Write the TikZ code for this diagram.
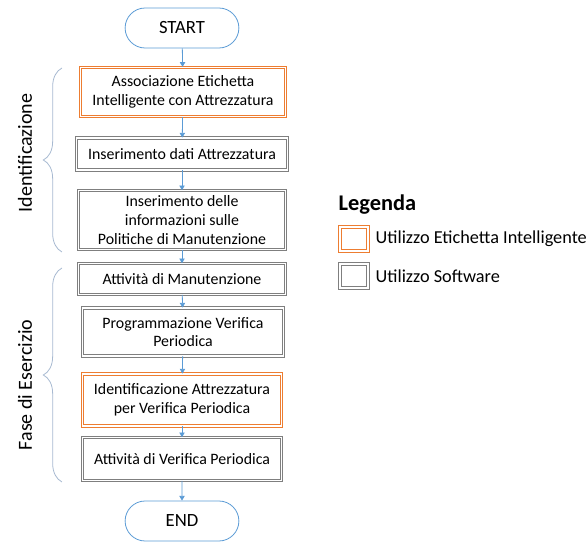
\documentclass[tikz,border=0pt]{standalone}
\usepackage{fontspec}
\setmainfont{Carlito}
\usetikzlibrary{arrows.meta,shapes.misc,decorations.pathreplacing}
\definecolor{flowblue}{HTML}{5B9BD5}
\definecolor{swgray}{HTML}{7F7F7F}
\definecolor{tagorange}{HTML}{ED7D31}
\definecolor{bracegray}{HTML}{A7B9D1}

\begin{document}
\begin{tikzpicture}[x=0.75pt,y=-0.75pt,
    terminal/.style={rounded rectangle, draw=flowblue, line width=0.6pt,
      minimum width=92pt, minimum height=30pt, font=\fontsize{14}{16}\selectfont},
    swbox/.style={rectangle, draw=swgray, double=white, double distance=1.1pt,
      line width=0.7pt, align=center, inner sep=3pt,
      font=\fontsize{11.9}{14}\selectfont},
    tagbox/.style={swbox, draw=tagorange},
    phase/.style={rotate=90, font=\fontsize{15}{17}\selectfont},
    curly/.style={draw=bracegray, line width=0.6pt, decorate,
      decoration={brace, amplitude=14pt}}]

  \useasboundingbox (0,0) rectangle (587,542);

  % flow
  \node[terminal] (1) at (182,28) {START};
  \node[tagbox, minimum width=154pt, minimum height=37pt] (2) at (183,92)
    {Associazione Etichetta\\Intelligente con Attrezzatura};
  \node[swbox, minimum width=158pt, minimum height=24pt] (3) at (182,154)
    {Inserimento dati Attrezzatura};
  \node[swbox, minimum width=155pt, minimum height=44pt] (4) at (182,220)
    {Inserimento delle\\informazioni sulle\\Politiche di Manutenzione};
  \node[swbox, minimum width=155pt, minimum height=23pt] (5) at (182,279)
    {Attività di Manutenzione};
  \node[swbox, minimum width=151pt, minimum height=36pt] (6) at (183,332)
    {Programmazione Verifica\\Periodica};
  \node[tagbox, minimum width=149pt, minimum height=39pt] (7) at (182,400)
    {Identificazione Attrezzatura\\per Verifica Periodica};
  \node[swbox, minimum width=149pt, minimum height=32pt] (8) at (182,459)
    {Attività di Verifica Periodica};
  \node[terminal] (9) at (182,521) {END};

  \begin{scope}[every edge/.style={draw=flowblue, line width=0.6pt,
      -{Triangle[width=4pt,length=3.5pt]}}]
    \path (1) edge (2);
    \path (2) edge (3);
    \path (3) edge (4);
    \path (4) edge (5);
    \path (5) edge (6);
    \path (6) edge (7);
    \path (7) edge (8);
    \path (8) edge (9);
  \end{scope}

  % phases
  \draw[curly] (62,252) -- (62,68);
  \draw[curly] (62,482) -- (62,268);
  \node[phase] (10) at (25,153) {Identificazione};
  \node[phase] (11) at (25,385) {Fase di Esercizio};

  % legend
  \node[anchor=west, font=\fontsize{16.8}{19}\selectfont\bfseries] (12) at (334,205) {Legenda};
  \node[tagbox, minimum width=21pt, minimum height=18pt] (13) at (354,239) {};
  \node[swbox, minimum width=21pt, minimum height=18pt] (14) at (354,276) {};
  \node[anchor=west, font=\fontsize{13.7}{15}\selectfont] (15) at (371,239)
    {Utilizzo Etichetta Intelligente};
  \node[anchor=west, font=\fontsize{13.7}{15}\selectfont] (16) at (371,276)
    {Utilizzo Software};
\end{tikzpicture}
\end{document}
